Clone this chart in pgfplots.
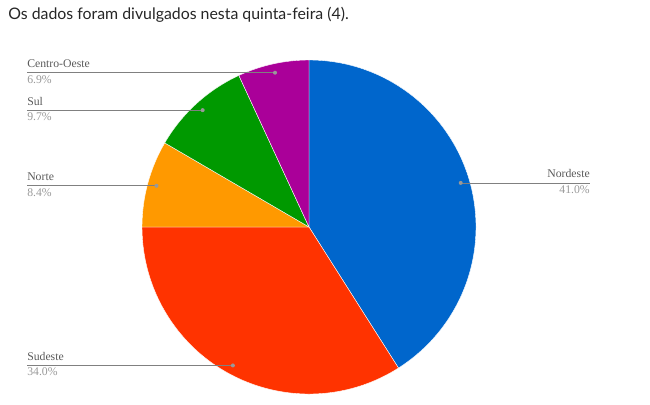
\documentclass[border=0pt]{standalone}
\usepackage{pgfplots}
\pgfplotsset{compat=1.18}
\usepackage{fontspec}
\setmainfont{Liberation Serif}
\newfontfamily\serifx{Liberation Serif}
\newfontfamily\latofont{Lato}
\definecolor{cNE}{HTML}{0066CC}
\definecolor{cSE}{HTML}{FF3300}
\definecolor{cN}{HTML}{FF9900}
\definecolor{cS}{HTML}{009900}
\definecolor{cCO}{HTML}{AA0099}
\definecolor{lname}{HTML}{5A5A5A}
\definecolor{lpct}{HTML}{999999}
\definecolor{lline}{HTML}{808080}
\definecolor{ttl}{HTML}{262626}
% #1 = cumulative start (percent), #2 = share (percent), #3 = colour
\newcommand{\pieslice}[3]{%
  \fill[#3, draw=white, line width=0.3pt] (axis cs:309,177) --
    (axis cs:{309+167*cos(90-3.6*#1)},{177+167*sin(90-3.6*#1)})
    arc[start angle={90-3.6*#1}, end angle={90-3.6*(#1+#2)}, radius=125.25pt] -- cycle;}
% #1 start, #2 share, #3 name, #4 label x, #5 anchor side (west/east)
\newcommand{\pielabel}[5]{%
  \draw[lline, line width=0.6pt] (axis cs:{309+158*cos(90-3.6*(#1+#2/2))},{177+158*sin(90-3.6*(#1+#2/2))}) --
    (axis cs:#4,{177+158*sin(90-3.6*(#1+#2/2))});
  \fill[lpct] (axis cs:{309+158*cos(90-3.6*(#1+#2/2))},{177+158*sin(90-3.6*(#1+#2/2))}) circle[radius=1.5pt];
  \node[anchor=base #5, inner sep=0pt, text=lname, font=\serifx\fontsize{8.8pt}{10pt}\selectfont]
    at (axis cs:#4,{177+158*sin(90-3.6*(#1+#2/2))+5}) {#3};
  \node[anchor=base #5, inner sep=0pt, text=lpct, font=\serifx\fontsize{8.8pt}{10pt}\selectfont]
    at (axis cs:#4,{177+158*sin(90-3.6*(#1+#2/2))-10.5}) {\pgfmathprintnumber[fixed, fixed zerofill, precision=1, assume math mode=true]{#2}\%};}
\begin{document}
\begin{tikzpicture}
\begin{axis}[scale only axis, width=487.5pt, height=303pt,
  xmin=0, xmax=650, ymin=0, ymax=404, hide axis, clip=false]
% shares (percent): Nordeste 41.0, Sudeste 34.0, Norte 8.4, Sul 9.7, Centro-Oeste 6.9
\pieslice{0}{41.0}{cNE}
\pieslice{41.0}{34.0}{cSE}
\pieslice{75.0}{8.4}{cN}
\pieslice{83.4}{9.7}{cS}
\pieslice{93.1}{6.9}{cCO}
\pielabel{0}{41.0}{Nordeste}{590}{east}
\pielabel{41.0}{34.0}{Sudeste}{27}{west}
\pielabel{75.0}{8.4}{Norte}{27}{west}
\pielabel{83.4}{9.7}{Sul}{27}{west}
\pielabel{93.1}{6.9}{Centro-Oeste}{27}{west}
\node[anchor=base west, inner sep=0pt, text=ttl, font=\latofont\fontsize{11.9pt}{14pt}\selectfont]
  at (axis cs:8,384) {Os dados foram divulgados nesta quinta-feira (4).};
\end{axis}
\pgfresetboundingbox
\useasboundingbox (current axis.south west) rectangle (current axis.north east);
\end{tikzpicture}
\end{document}
